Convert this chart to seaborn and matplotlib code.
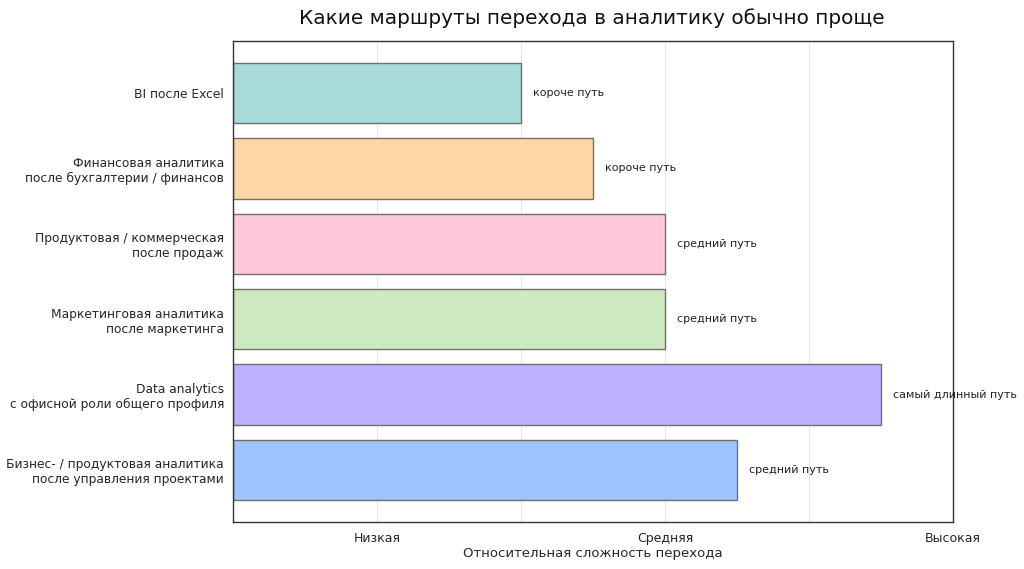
import numpy as np
import pandas as pd
import matplotlib
matplotlib.use("Agg")
import matplotlib.pyplot as plt
import seaborn as sns

# data
routes = [
    "BI после Excel",
    "Финансовая аналитика\nпосле бухгалтерии / финансов",
    "Продуктовая / коммерческая\nпосле продаж",
    "Маркетинговая аналитика\nпосле маркетинга",
    "Data analytics\nс офисной роли общего профиля",
    "Бизнес- / продуктовая аналитика\nпосле управления проектами",
]
difficulty = [2.0, 2.5, 3.0, 3.0, 4.5, 3.5]
notes = ["короче путь", "короче путь", "средний путь",
         "средний путь", "самый длинный путь", "средний путь"]
colors = ["#a8dadc", "#ffd6a5", "#ffc8dd", "#cdeac0", "#bdb2ff", "#a0c4ff"]
tick_pos = [1, 2, 3, 4, 5]
tick_labels = ["Низкая", "", "Средняя", "", "Высокая"]

df = pd.DataFrame({"route": routes, "difficulty": difficulty})

sns.set_style("white")
plt.rcParams["font.family"] = ["DejaVu Sans"]

fig = plt.figure(figsize=(10.24, 5.69), dpi=100)
ax = fig.add_axes([233 / 1024, 1 - 522 / 569, 720 / 1024, 481 / 569])

sns.barplot(data=df, x="difficulty", y="route", hue="route", palette=colors,
            legend=False, orient="h", width=0.8, saturation=1, ax=ax,
            edgecolor="#707070", linewidth=1.0)

for i, (v, note) in enumerate(zip(difficulty, notes)):
    ax.text(v + 0.08, i, note, va="center", ha="left", fontsize=8, color="#222222")

ax.set_xlim(0, 5)
ax.set_ylim(5.69, -0.69)
ax.set_xticks(tick_pos)
ax.set_xticklabels(tick_labels, fontsize=9)
ax.tick_params(axis="x", length=4, color="#333333")
ax.tick_params(axis="y", length=3, labelsize=8.8, color="#333333", pad=3.5)
ax.xaxis.grid(True, color="#e6e6e6", linewidth=0.8)
ax.set_axisbelow(True)
ax.set_xlabel("Относительная сложность перехода", fontsize=9.5, labelpad=1)
ax.set_ylabel("")
for s in ax.spines.values():
    s.set_color("#333333")
    s.set_linewidth(1.0)

fig.text(0.578, 0.968, "Какие маршруты перехода в аналитику обычно проще",
         ha="center", va="center", fontsize=14.4, color="#111111")

fig.savefig("out.png", dpi=100)
